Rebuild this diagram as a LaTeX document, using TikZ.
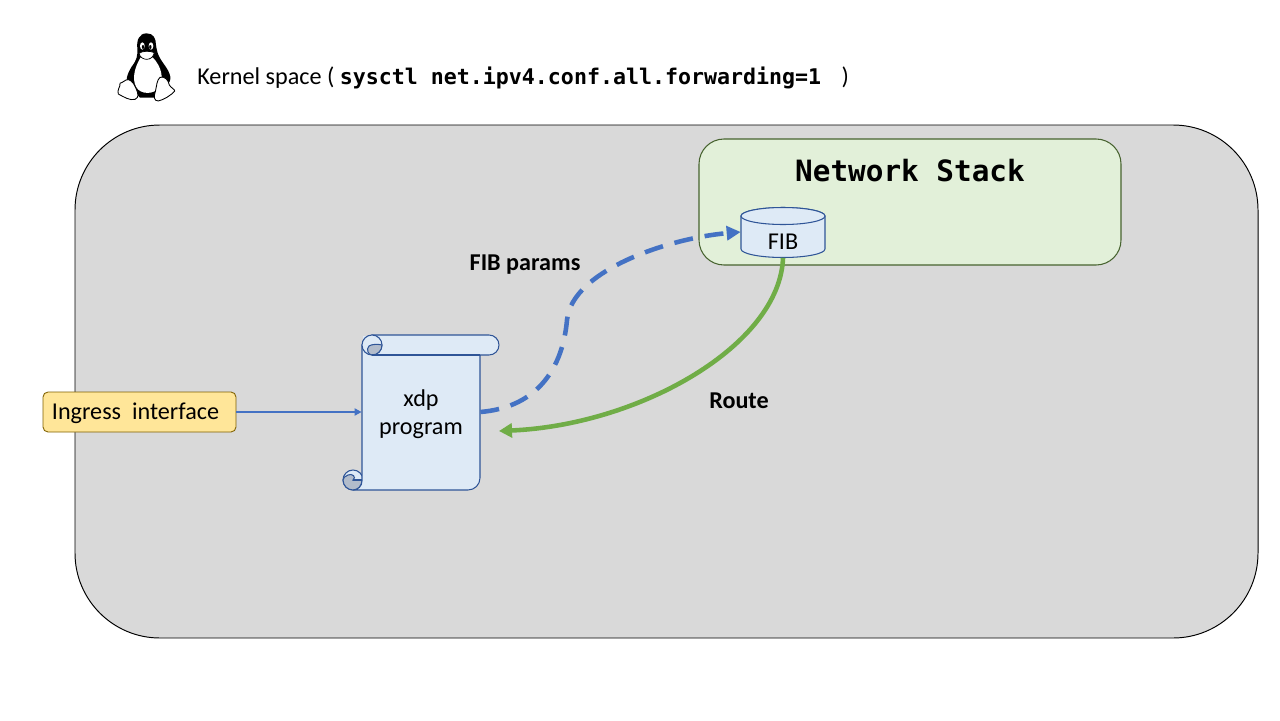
\documentclass[tikz,border=0pt]{standalone}
\usepackage{fontspec}
\setmainfont{Carlito}
\newfontfamily\monofont{DejaVu Sans Mono}
\usetikzlibrary{arrows.meta}
\definecolor{panelgray}{HTML}{D9D9D9}
\definecolor{stackgreen}{HTML}{E2F0D9}
\definecolor{stackline}{HTML}{47632F}
\definecolor{ingressfill}{HTML}{FFE699}
\definecolor{ingressline}{HTML}{7F6000}
\definecolor{scrollfill}{HTML}{DEEAF6}
\definecolor{scrollline}{HTML}{2F5597}
\definecolor{scrollcurl}{HTML}{B2BCCB}
\definecolor{arrowblue}{HTML}{4472C4}
\definecolor{arrowgreen}{HTML}{70AD47}
\tikzset{
	labeltext/.style={font=\fontsize{13.75}{16}\selectfont, inner sep=0pt, align=center},
	boldlabel/.style={labeltext, font=\fontsize{13.75}{16}\selectfont\bfseries},
	scrollpart/.style={draw=scrollline, line width=0.6pt, fill=scrollfill},
	curlpart/.style={draw=scrollline, line width=0.6pt, fill=scrollcurl},
	penguinfoot/.style={draw=black, line width=0.5pt, fill=white},
}

\begin{document}
\begin{tikzpicture}[x=0.02cm, y=-0.02cm]
			%%%%% START %%%%%
			\useasboundingbox (0, 0) rectangle (1280, 720);
			
			\draw[fill=panelgray, line width=0.55pt] (75, 125) [rounded corners=1.7cm] rectangle (1258, 638);
			\draw[fill=stackgreen, draw=stackline, line width=0.6pt] (699, 139) [rounded corners=0.5cm] rectangle (1121, 265);
			
			% penguin
			\begin{scope}[shift={(100, 20)}, scale=1/3]
				\fill[black] (140, 40) .. controls (118, 40) and (109, 60) .. (112, 85) .. controls (113, 110) and (110, 120) .. (95, 140) .. controls (80, 165) and (76, 180) .. (85, 198) -- (120, 233) -- (170, 233) -- (205, 190) .. controls (220, 175) and (205, 150) .. (190, 130) .. controls (172, 105) and (170, 90) .. (168, 75) .. controls (168, 55) and (160, 40) .. (140, 40) -- cycle;
				\fill[white] (122, 112) .. controls (105, 140) and (95, 175) .. (108, 200) .. controls (120, 225) and (165, 225) .. (178, 200) .. controls (192, 175) and (185, 140) .. (158, 112) .. controls (150, 120) and (130, 120) .. (122, 112) -- cycle;
				\fill[white] (127, 78) ellipse (7 and 11);
				\fill[white] (153, 78) ellipse (7 and 11);
				\fill[black] (129, 81) ellipse (3.5 and 6);
				\fill[black] (151, 81) ellipse (3.5 and 6);
				\draw[fill=white, line width=0.4pt] (117, 100) .. controls (128, 92) and (150, 92) .. (163, 98) .. controls (160, 112) and (150, 118) .. (140, 118) .. controls (130, 118) and (120, 112) .. (117, 100) -- cycle;
				\draw[penguinfoot] (78, 180) .. controls (88, 175) and (100, 185) .. (108, 205) .. controls (115, 222) and (118, 232) .. (105, 238) .. controls (90, 243) and (70, 230) .. (55, 222) .. controls (50, 210) and (62, 200) .. (60, 190) .. controls (62, 186) and (72, 188) .. (78, 180) -- cycle;
				\draw[penguinfoot] (180, 172) .. controls (195, 168) and (205, 180) .. (208, 195) .. controls (212, 203) and (225, 208) .. (224, 213) .. controls (215, 225) and (190, 240) .. (175, 243) .. controls (162, 243) and (160, 230) .. (166, 215) .. controls (170, 200) and (170, 180) .. (180, 172) -- cycle;
			\end{scope}
			
			\node[labeltext, anchor=west] (title) at (197, 78) {Kernel space ( {\monofont\bfseries\fontsize{12.3}{14}\selectfont sysctl net.ipv4.conf.all.forwarding=1}\ \ \ \,)};
			\node[font=\monofont\bfseries\fontsize{16.7}{20}\selectfont, inner sep=0pt] (stacktitle) at (910, 171) {Network Stack};
			
			% scroll
			\draw[scrollpart] (353, 480) circle (10);
			\draw[curlpart] (343, 480) .. controls (343, 486) and (348, 490) .. (353, 490) .. controls (358, 490) and (362, 486) .. (362, 480) -- (353, 480) .. controls (357, 477) and (352, 473) .. (348, 475) .. controls (345, 476) and (343, 478) .. (343, 480) -- cycle;
			\draw[scrollpart] (372, 345) -- (372, 335) -- (489, 335) arc (270:450:10) -- (480, 355) -- (480, 478) arc (0:90:12) -- (353, 490) arc (90:0:9) -- (362, 345) -- cycle;
			\fill[scrollfill] (363, 336) rectangle (372, 345);
			\draw[scrollpart] (372, 345) circle (10);
			\draw[curlpart] (382, 345) arc (0:90:10) .. controls (368, 355) and (366, 349) .. (369, 346) .. controls (372, 344) and (378, 344) .. (382, 345) -- cycle;
			\draw[scrollline, line width=0.6pt] (372, 355) -- (480, 355);
			\draw[scrollline, line width=0.6pt] (353, 480) -- (362, 480);
			\node[minimum width=2.36cm, minimum height=1.2cm, inner sep=0pt] (xdp) at (421, 412) {};
			\node[labeltext] (xdplabel) at (421, 414) {xdp\\program};
			
			\node[labeltext, rectangle, rounded corners=0.1cm, draw=ingressline, fill=ingressfill, line width=0.5pt, minimum width=3.86cm, minimum height=0.8cm, text height=0.37cm, text depth=0.09cm] (ingress) at (139.5, 412) {Ingress\ \ interface\hspace{0.16cm}};
			
			% cylinder
			\draw[scrollpart] (741, 216) -- (741, 249) arc (180:0:42 and 8.5) -- (825, 216) arc (0:-180:42 and 8.5) -- cycle;
			\draw[scrollpart] (783, 216) ellipse (42 and 8.5);
			\node[minimum width=1.68cm, minimum height=1.02cm, inner sep=0pt] (fib) at (783, 232) {};
			\node[labeltext] (fiblabel) at (783, 242) {FIB};
			
			\coordinate (xdpin) at (499, 431);
			\coordinate (dashbend) at (567, 320);
			
			\draw[-{Triangle[length=2.8mm, width=2.8mm]}, draw=arrowblue, line width=2.6pt, dash pattern=on 10.8pt off 6.8pt] (xdp.east) .. controls (540, 407) and (563, 365) .. (dashbend) .. controls (572, 270) and (670, 238) .. (fib.west);
			\draw[-{Triangle[length=2.6mm, width=2.8mm]}, draw=arrowgreen, line width=2.6pt] (fib.south) .. controls (780, 345) and (640, 425) .. (xdpin);
			\draw[-{Triangle[length=1.4mm, width=1.4mm]}, draw=arrowblue, line width=1.1pt] (ingress.east) -- (xdp.west);
			
			\node[boldlabel] (fibparams) at (525, 265) {FIB params};
			\node[boldlabel] (route) at (739, 401) {Route};
			%%%%% END %%%%%
		\end{tikzpicture}
\end{document}
